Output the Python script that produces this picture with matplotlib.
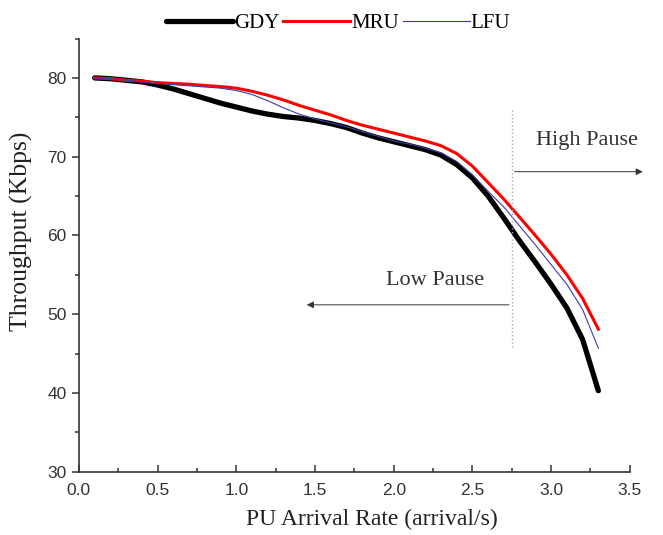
import matplotlib.pyplot as plt
from matplotlib.ticker import MultipleLocator

# PU arrival rate (arrival/s)
rate = [0.1, 0.2, 0.3, 0.4, 0.5, 0.6, 0.7, 0.8, 0.9, 1.0, 1.1, 1.2, 1.3, 1.4, 1.5, 1.6, 1.7,
        1.8, 1.9, 2.0, 2.1, 2.2, 2.3, 2.4, 2.5, 2.6, 2.7, 2.8, 2.9, 3.0, 3.1, 3.2, 3.3]

# throughput (Kbps)
gdy = [80.0, 79.9, 79.7, 79.5, 79.1, 78.6, 78.0, 77.4, 76.8, 76.3, 75.8, 75.4, 75.1, 74.9, 74.6, 74.2, 73.7,
       73.0, 72.4, 71.9, 71.4, 70.9, 70.2, 69.0, 67.3, 65.0, 62.2, 59.3, 56.6, 53.8, 50.8, 46.8, 40.3]
mru = [80.0, 79.9, 79.7, 79.6, 79.4, 79.3, 79.2, 79.05, 78.9, 78.7, 78.3, 77.8, 77.2, 76.5, 75.9, 75.3, 74.6,
       74.0, 73.5, 73.0, 72.5, 72.0, 71.4, 70.4, 68.8, 66.7, 64.6, 62.3, 60.0, 57.6, 55.0, 52.0, 48.1]
lfu = [80.0, 79.9, 79.7, 79.5, 79.3, 79.15, 79.0, 78.85, 78.7, 78.4, 77.9, 77.1, 76.2, 75.4, 74.8, 74.3, 73.8,
       73.2, 72.6, 72.0, 71.6, 71.1, 70.5, 69.4, 67.7, 65.6, 63.6, 61.2, 58.8, 56.3, 53.8, 50.6, 45.7]

plt.rcParams['font.family'] = ['Liberation Serif', 'DejaVu Serif']

fig = plt.figure(figsize=(6.63, 5.35), dpi=100)
ax = fig.add_axes([0.119, 0.118, 0.831, 0.81])

ax.plot(rate, gdy, color='black', linewidth=3.8, solid_capstyle='round', solid_joinstyle='round', label='GDY')
ax.plot(rate, mru, color='#ff0000', linewidth=2.2, solid_joinstyle='round', label='MRU')
ax.plot(rate, lfu, color='#3c3ca8', linewidth=0.8, label='LFU')

# pause boundary and arrows
ax.plot([2.75, 2.75], [45.8, 76.0], color='#aaaaaa', linestyle=':', linewidth=1.0)
ax.annotate('', xy=(3.6, 68.1), xytext=(2.75, 68.1), annotation_clip=False,
            arrowprops=dict(arrowstyle='-|>', color='#333333', lw=0.7, mutation_scale=10))
ax.annotate('', xy=(1.43, 51.2), xytext=(2.75, 51.2),
            arrowprops=dict(arrowstyle='-|>', color='#333333', lw=0.7, mutation_scale=10))
ax.text(3.23, 72.0, 'High Pause', fontsize=16, ha='center', va='center', color='#333333')
ax.text(2.26, 54.3, 'Low Pause', fontsize=16, ha='center', va='center', color='#333333')

ax.set_xlim(0, 3.5)
ax.set_ylim(30, 85)
ax.xaxis.set_major_locator(MultipleLocator(0.5))
ax.xaxis.set_minor_locator(MultipleLocator(0.25))
ax.yaxis.set_major_locator(MultipleLocator(10))
ax.yaxis.set_minor_locator(MultipleLocator(5))
ax.spines['top'].set_visible(False)
ax.spines['right'].set_visible(False)
for s in ['left', 'bottom']:
    ax.spines[s].set_color('#333333')
    ax.spines[s].set_linewidth(1.2)
ax.tick_params(axis='x', direction='in', length=5, width=1.1, colors='#333333', pad=8)
ax.tick_params(axis='x', which='minor', direction='in', length=3, width=1.1, colors='#333333')
ax.tick_params(axis='y', direction='out', length=5, width=1.1, colors='#333333', pad=4)
ax.tick_params(axis='y', which='minor', direction='out', length=3, width=1.1, colors='#333333')
for lab in ax.get_xticklabels() + ax.get_yticklabels():
    lab.set_family(['Liberation Sans', 'DejaVu Sans'])
    lab.set_fontsize(12.5)

ax.set_xlabel('PU Arrival Rate (arrival/s)', fontsize=17, color='#222222')
ax.set_ylabel('Throughput (Kbps)', fontsize=18.5, color='#222222')
ax.xaxis.set_label_coords(0.532, -0.085)
ax.yaxis.set_label_coords(-0.083, 0.555)

fig.legend(loc='upper center', bbox_to_anchor=(0.51, 1.01), ncol=3, frameon=False,
           fontsize=15, handlelength=3.2, handletextpad=0.05, columnspacing=0.2)

fig.savefig('out.png', dpi=100)
